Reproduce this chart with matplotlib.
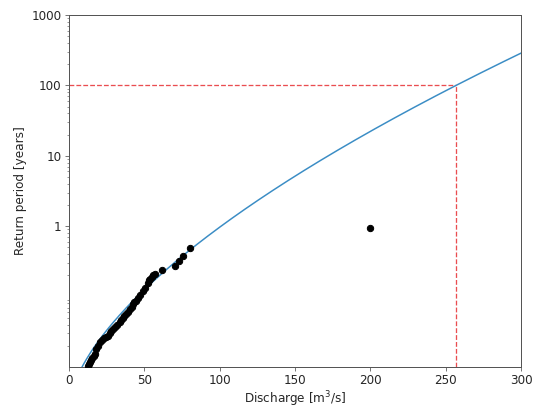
import numpy as np
import matplotlib
matplotlib.use("Agg")
import matplotlib.pyplot as plt
from matplotlib.ticker import FixedLocator, FixedFormatter, LogLocator, NullFormatter

# Observed discharges [m3/s] and their empirical return periods [years]
obs_discharge = [12.3, 13.0, 13.7, 14.6, 15.5, 16.4, 17.2, 18.2, 19.5, 20.4,
                 22.0, 23.5, 24.8, 25.7, 27.0, 28.2, 29.0, 30.5, 32.0, 33.7,
                 34.8, 35.6, 36.5, 37.8, 39.0, 40.3, 41.5, 42.5, 43.0, 44.2,
                 45.8, 47.2, 49.1, 50.6, 52.5, 53.4, 54.0, 55.1, 55.8, 56.9,
                 61.6, 70.4, 73.0, 75.7, 80.3, 200.1]
obs_period = [0.0103, 0.0110, 0.0118, 0.0127, 0.0136, 0.0144, 0.0155, 0.0179, 0.0196, 0.0225,
              0.0239, 0.0256, 0.0268, 0.0277, 0.0300, 0.0322, 0.0344, 0.0370, 0.0400, 0.0432,
              0.0460, 0.0490, 0.0531, 0.0570, 0.0610, 0.0660, 0.0720, 0.0790, 0.0830, 0.0880,
              0.0950, 0.1060, 0.1210, 0.1330, 0.1560, 0.1700, 0.1800, 0.1920, 0.2000, 0.2110,
              0.2380, 0.2710, 0.3160, 0.3760, 0.4830, 0.9300]

# Fitted exceedance model: x = c * ln(rate * T) ** b
rate = 365.0
scale_c = 5.69
shape_b = 1.62

design_period = 100
design_discharge = 257

x_ticks = [0, 50, 100, 150, 200, 250, 300]
y_ticks = [1, 10, 100, 1000]
y_tick_labels = ["1", "10", "100", "1000"]

plt.rcParams["font.family"] = ["DejaVu Sans"]
plt.rcParams["font.size"] = 12

fig = plt.figure(figsize=(539 / 72, 408 / 72), dpi=72)
ax = fig.add_axes([69 / 539, 1 - 367 / 408, (521 - 69) / 539, (367 - 15) / 408])

xq = np.linspace(0, 300, 600)
tq = np.exp((xq / scale_c) ** (1.0 / shape_b)) / rate
ax.plot(xq, tq, color="#3b8dc5", lw=1.5, zorder=2)

ax.scatter(obs_discharge, obs_period, s=40, color="black", zorder=3, clip_on=True)

ax.plot([0, design_discharge], [design_period, design_period], ls="--", color="#e8393d", lw=1.3, alpha=0.9, zorder=1)
ax.plot([design_discharge, design_discharge], [0.01, design_period], ls="--", color="#e8393d", lw=1.3, alpha=0.9, zorder=1)

ax.set_yscale("log")
ax.set_xlim(0, 300)
ax.set_ylim(0.01, 1000)
ax.set_xticks(x_ticks)
ax.yaxis.set_major_locator(FixedLocator(y_ticks))
ax.yaxis.set_major_formatter(FixedFormatter(y_tick_labels))
ax.yaxis.set_minor_locator(LogLocator(base=10, subs=np.arange(2, 10)))
ax.yaxis.set_minor_formatter(NullFormatter())

for sp in ax.spines.values():
    sp.set_color("#555555")
    sp.set_linewidth(1.0)
ax.tick_params(colors="#555555", labelcolor="#262626", which="both")
ax.tick_params(which="major", length=4)
ax.tick_params(which="minor", length=2)

ax.set_xlabel("Discharge [m$^3$/s]", color="#262626", labelpad=2)
ax.set_ylabel("Return period [years]", color="#262626")

fig.savefig("out.png", dpi=72)
